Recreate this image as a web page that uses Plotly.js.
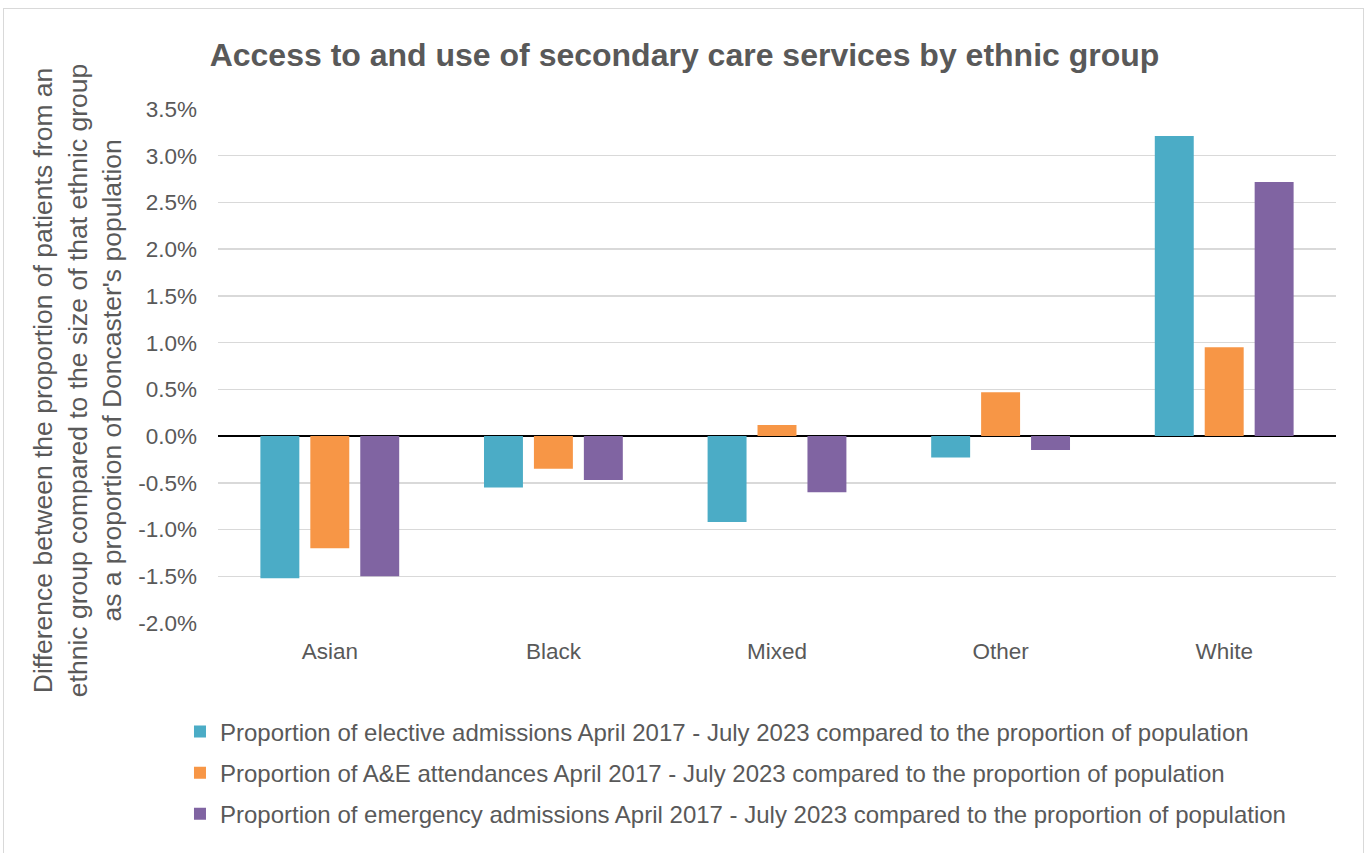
<!DOCTYPE html>
<html>
<head>
<meta charset="utf-8">
<script src="https://cdn.plot.ly/plotly-3.0.1.min.js"></script>
<style>
html, body { margin: 0; padding: 0; background: #fff; overflow: hidden; }
#frame { position: absolute; left: 3px; top: 8px; width: 1361px; height: 860px; border: 1px solid #D9D9D9; box-sizing: border-box; }
#chart { position: absolute; left: 0; top: 0; width: 1369px; height: 853px; }
</style>
</head>
<body>
<div id="frame"></div>
<div id="chart"></div>
<script>
const categories = ["Asian", "Black", "Mixed", "Other", "White"];
const electiveName = "Proportion of elective admissions April 2017 - July 2023 compared to the proportion of population";
const aeName = "Proportion of A&E attendances April 2017 - July 2023 compared to the proportion of population";
const emergencyName = "Proportion of emergency admissions April 2017 - July 2023 compared to the proportion of population";
const elective = [-0.0152, -0.0055, -0.0092, -0.0023, 0.0321];
const ae = [-0.0120, -0.0035, 0.0012, 0.0047, 0.0095];
const emergency = [-0.0150, -0.0047, -0.0060, -0.0015, 0.0272];
const tickVals = [-0.02, -0.015, -0.01, -0.005, 0, 0.005, 0.01, 0.015, 0.02, 0.025, 0.03, 0.035];
const tickText = ["-2.0%", "-1.5%", "-1.0%", "-0.5%", "0.0%", "0.5%", "1.0%", "1.5%", "2.0%", "2.5%", "3.0%", "3.5%"];
const yTitle = "Difference between the proportion of patients from an<br>ethnic group compared to the size of that ethnic group<br>as a proportion of Doncaster's population";

const FONT = '"Liberation Sans", Arial, sans-serif';
const GREY = "#595959";

function mk(name, y, color, grp) {
  return {
    type: "bar", name: name, x: categories, y: y, legendgroup: grp,
    marker: { color: color, line: { width: 0 } },
    hoverinfo: "skip"
  };
}

const data = [
  mk(electiveName, elective, "#4BACC6", "a"),
  mk(aeName, ae, "#F79646", "b"),
  mk(emergencyName, emergency, "#8064A2", "c")
];

const layout = {
  width: 1369, height: 853,
  margin: { l: 218, r: 33, t: 109, b: 230 },
  paper_bgcolor: "rgba(0,0,0,0)",
  plot_bgcolor: "rgba(0,0,0,0)",
  font: { family: FONT, color: GREY, size: 22 },
  title: {
    text: "<b>Access to and use of secondary care services by ethnic group</b>",
    font: { family: FONT, size: 32, color: GREY },
    x: 0.5, xref: "container", xanchor: "center",
    y: 48, yref: "container", yanchor: "middle"
  },
  barmode: "group",
  bargap: 0.33,
  bargroupgap: 0.22,
  xaxis: {
    type: "category",
    tickfont: { family: FONT, size: 22.5, color: GREY },
    showgrid: false, zeroline: false, showline: false,
    ticks: "", ticklabelstandoff: 12,
    fixedrange: true
  },
  yaxis: {
    range: [-0.02, 0.035],
    tickvals: tickVals,
    ticktext: tickText,
    tickfont: { family: FONT, size: 22.5, color: GREY },
    showgrid: true, gridcolor: "#D9D9D9", gridwidth: 1.5,
    zeroline: true, zerolinecolor: "#000000", zerolinewidth: 1.5,
    showline: false, ticks: "", ticklabelstandoff: 20,
    fixedrange: true
  },
  annotations: [{
    text: yTitle,
    xref: "paper", yref: "paper",
    x: -0.125, y: 0.471,
    xanchor: "center", yanchor: "middle",
    textangle: -90, showarrow: false,
    font: { family: FONT, size: 26.5, color: GREY }
  }],
  showlegend: true,
  legend: {
    orientation: "v",
    x: -0.034, xanchor: "left",
    y: -0.168, yanchor: "top",
    font: { family: FONT, size: 24, color: GREY },
    traceorder: "grouped",
    tracegroupgap: 7,
    itemwidth: 30,
    bgcolor: "rgba(0,0,0,0)"
  }
};

Plotly.newPlot("chart", data, layout, { displayModeBar: false, staticPlot: true });
</script>
</body>
</html>
